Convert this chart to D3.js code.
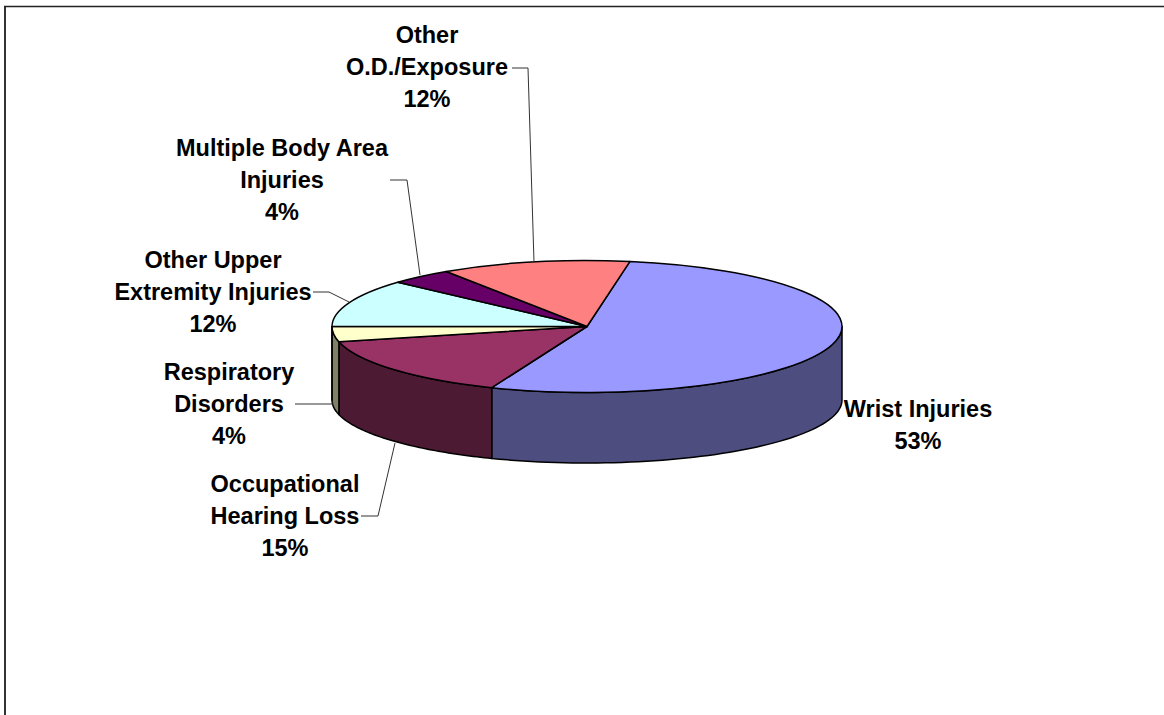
<!DOCTYPE html>
<html>
<head>
<meta charset="utf-8">
<script src="https://cdnjs.cloudflare.com/ajax/libs/d3/7.8.5/d3.min.js"></script>
<style>
html, body { margin: 0; padding: 0; background: #fff; overflow: hidden; }
svg { display: block; }
.lbl { font-family: "Liberation Sans", Arial, sans-serif; font-weight: bold; font-size: 23.5px; fill: #000; text-anchor: middle; }
</style>
</head>
<body>
<div id="chart"></div>
<script>
// slices, clockwise from the wrist slice
var categories = ["Wrist Injuries", "Occupational Hearing Loss", "Respiratory Disorders", "Other Upper Extremity Injuries", "Multiple Body Area Injuries", "Other O.D./Exposure"];
var values = [53.4, 15.2, 3.7, 11.7, 4.0, 12.0];
var labelLines = [
    ["Wrist Injuries"],
    ["Occupational", "Hearing Loss"],
    ["Respiratory", "Disorders"],
    ["Other Upper", "Extremity Injuries"],
    ["Multiple Body Area", "Injuries"],
    ["Other", "O.D./Exposure"]
];
var topColors = ["#9999ff", "#993366", "#ffffcc", "#ccffff", "#660066", "#ff8080"];
var wallColors = ["#4d4d80", "#4d1a33", "#808066", "#668080", "#330033", "#804040"];

var width = 1164;
var height = 715;

var svg = d3.select("#chart")
    .append("svg")
    .attr("width", width)
    .attr("height", height);

// frame only shows on top and left
svg.append("path")
    .attr("d", "M5,715V6.5")
    .attr("stroke", "#333")
    .attr("stroke-width", 2);
svg.append("path")
    .attr("d", "M4,6.5H1164")
    .attr("stroke", "#222")
    .attr("stroke-width", 1.5);

var cx = 587, cy = 326.5, rx = 255, ry = 66;
var bottomCy = 400, bottomRy = 63;

var start = 9.7 * Math.PI / 180;
var pie = d3.pie().sort(null).startAngle(start).endAngle(start + 2 * Math.PI);
var slices = pie(values);

function topPoint(a) {
    return [cx + rx * Math.sin(a), cy - ry * Math.cos(a)];
}
function bottomPoint(a) {
    return [cx + rx * Math.sin(a), bottomCy - bottomRy * Math.cos(a)];
}

// walls: only the part of a slice facing the front is visible
var line = d3.line();
slices.forEach(function(d) {
    var a0 = Math.max(d.startAngle, Math.PI / 2);
    var a1 = Math.min(d.endAngle, 3 * Math.PI / 2);
    if (a1 <= a0) return;
    var steps = d3.range(0, 61).map(function(i) { return a0 + (a1 - a0) * i / 60; });
    var pts = steps.map(topPoint).concat(steps.slice().reverse().map(bottomPoint));
    svg.append("path")
        .attr("d", line(pts) + "Z")
        .attr("fill", wallColors[d.index])
        .attr("stroke", "#000")
        .attr("stroke-width", 1.5)
        .attr("stroke-linejoin", "round");
});

// top face: d3.arc squashed to an ellipse
var arc = d3.arc().innerRadius(0).outerRadius(rx);
svg.append("g")
    .attr("transform", "translate(" + cx + "," + cy + ") scale(1," + (ry / rx) + ")")
    .selectAll("path")
    .data(slices)
    .enter()
    .append("path")
        .attr("d", arc)
        .attr("fill", function(d) { return topColors[d.index]; })
        .attr("stroke", "#000")
        .attr("stroke-width", 1.5)
        .attr("vector-effect", "non-scaling-stroke")
        .attr("stroke-linejoin", "round");

// leader lines
var leaders = [
    null,
    [[361, 516], [378, 516], [395, 443]],
    [[295, 404], [333, 404]],
    [[313, 292], [329, 292], [349, 302]],
    [[390, 180], [407, 180], [420, 275]],
    [[512, 68], [528, 68], [534, 262]]
];
leaders.forEach(function(l) {
    if (!l) return;
    svg.append("path")
        .attr("d", line(l))
        .attr("fill", "none")
        .attr("stroke", "#333")
        .attr("stroke-width", 1);
});

// labels: center x and the baseline of the first line
var labelPos = [[918, 417], [285, 492], [229, 380], [213, 268], [282, 156], [427, 43]];
var lineStep = 32.2;
var pct = d3.format(".0f");
categories.forEach(function(c, i) {
    var lines = labelLines[i].concat(pct(values[i]) + "%");
    lines.forEach(function(t, j) {
        svg.append("text")
            .attr("class", "lbl")
            .attr("x", labelPos[i][0])
            .attr("y", labelPos[i][1] + j * lineStep)
            .text(t);
    });
});
</script>
</body>
</html>
